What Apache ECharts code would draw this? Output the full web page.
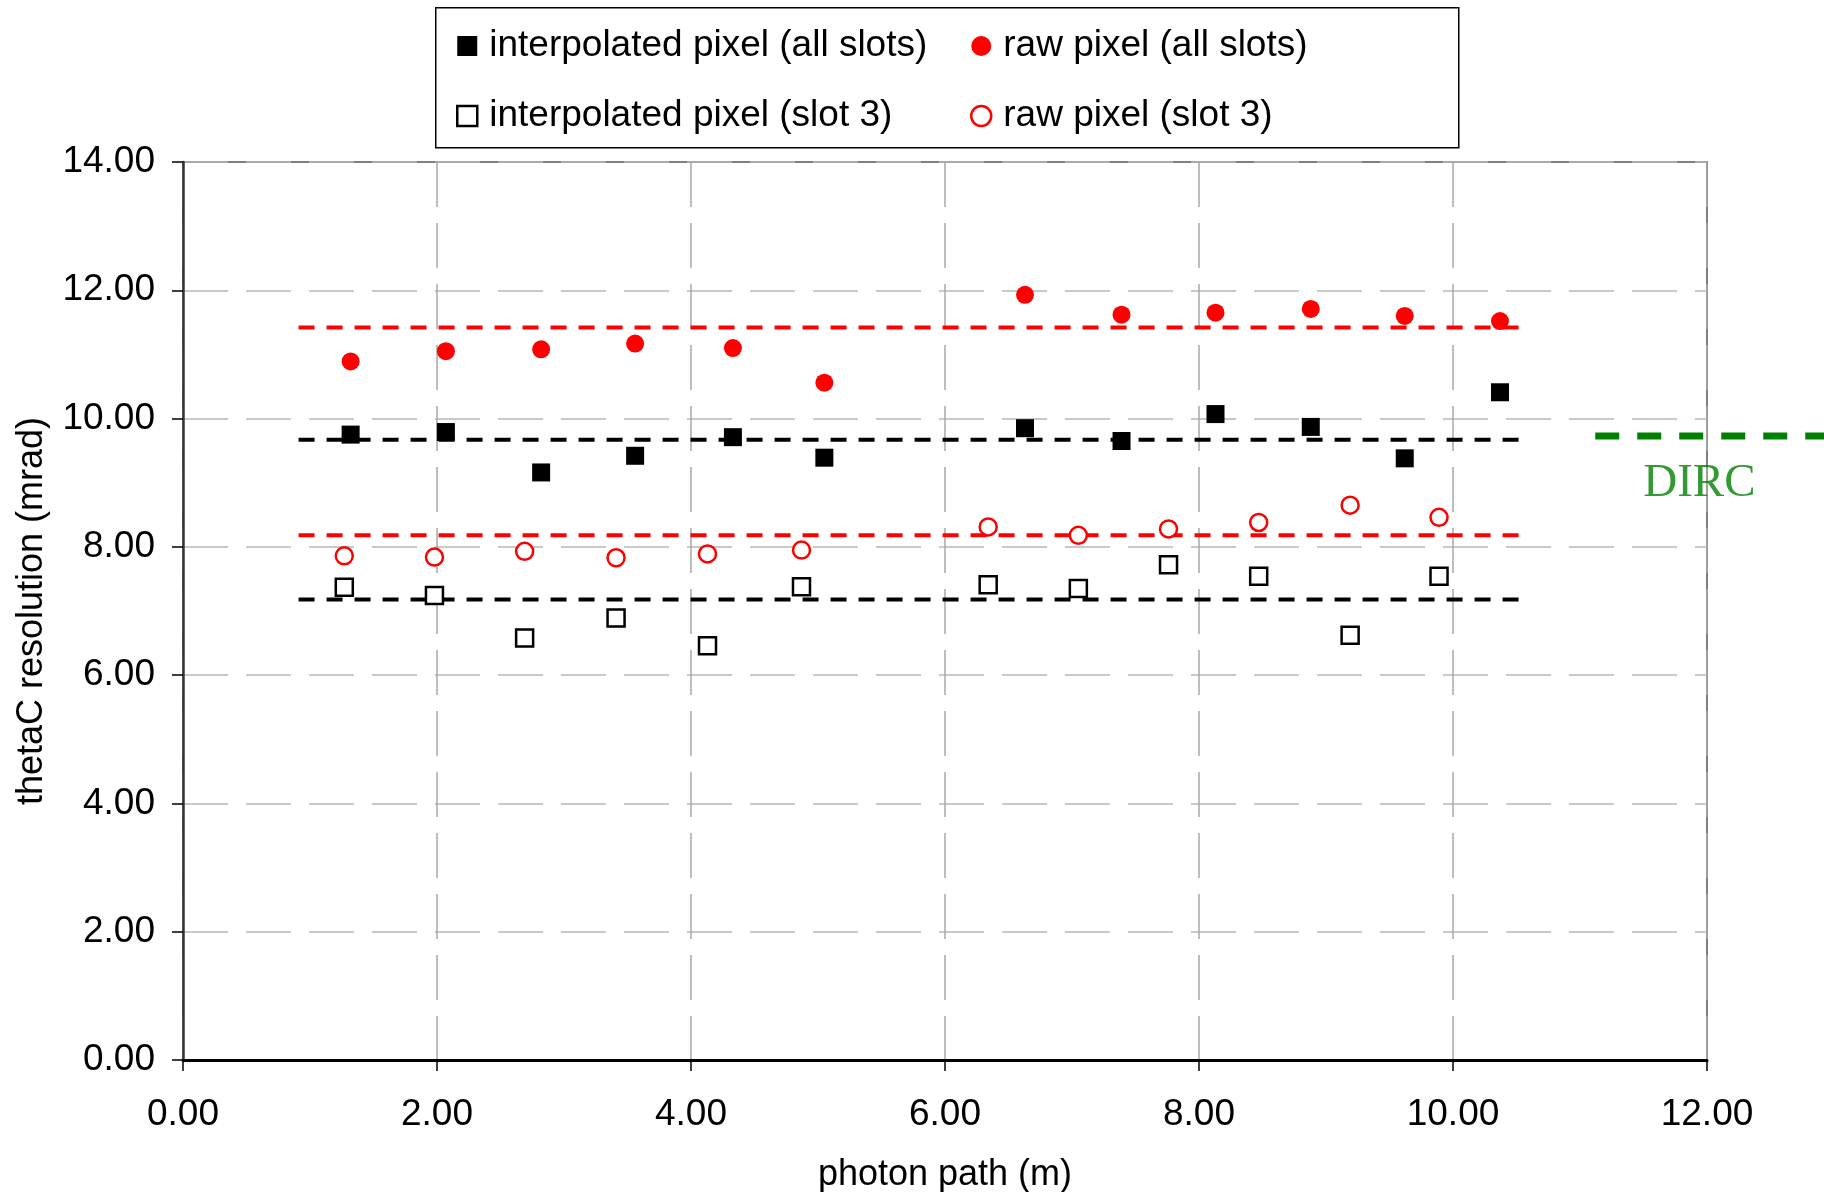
<!DOCTYPE html>
<html>
<head>
<meta charset="utf-8">
<script src="https://cdn.jsdelivr.net/npm/echarts@6/dist/echarts.min.js"></script>
<style>
  html, body { margin: 0; padding: 0; background: #fff; }
  #main { width: 1824px; height: 1192px; }
</style>
</head>
<body>
<div id="main"></div>
<script>
// photon path (m) for each point
var pathAll = [1.32, 2.07, 2.82, 3.56, 4.33, 5.05, 6.63, 7.39, 8.13, 8.88, 9.62, 10.37];
var pathSlot3 = [1.27, 1.98, 2.69, 3.41, 4.13, 4.87, 6.34, 7.05, 7.76, 8.47, 9.19, 9.89];

// thetaC resolution (mrad)
var interpAll = [9.75, 9.79, 9.16, 9.42, 9.71, 9.39, 9.85, 9.65, 10.07, 9.87, 9.38, 10.41];
var rawAll = [10.89, 11.05, 11.08, 11.17, 11.10, 10.56, 11.93, 11.62, 11.65, 11.71, 11.60, 11.52];
var interpSlot3 = [7.37, 7.24, 6.58, 6.89, 6.46, 7.38, 7.41, 7.35, 7.72, 7.54, 6.62, 7.54];
var rawSlot3 = [7.86, 7.84, 7.93, 7.83, 7.89, 7.95, 8.31, 8.18, 8.28, 8.38, 8.65, 8.46];

// mean lines
var meanRange = [0.91, 10.52];
var meanLevels = [11.42, 9.67, 8.18, 7.18];
var meanColors = ['#ff0000', '#000000', '#ff0000', '#000000'];

// DIRC reference (runs past the right edge of the plot)
var dircRange = [11.12, 12.95];
var dircLevel = 9.73;
var dircLabelPos = [11.94, 8.98];

var seriesNames = [
    'interpolated pixel (all slots)',
    'raw pixel (all slots)',
    'interpolated pixel (slot 3)',
    'raw pixel (slot 3)'
];

var font = "'Liberation Sans', Arial, sans-serif";

function pairs(xs, ys) {
    return xs.map(function (x, i) { return [x, ys[i]]; });
}

var chart = echarts.init(document.getElementById('main'));

var series = [];

meanLevels.forEach(function (lvl, i) {
    series.push({
        type: 'line',
        data: meanRange.map(function (x) { return [x, lvl]; }),
        showSymbol: false,
        silent: true,
        z: 2,
        lineStyle: { color: meanColors[i], width: 4, type: [16, 12] }
    });
});

series.push({
    type: 'scatter',
    data: [dircLabelPos],
    symbolSize: 0,
    silent: true,
    clip: false,
    label: {
        show: true,
        position: 'inside',
        formatter: 'DIRC',
        color: '#008000',
        fontFamily: "'Liberation Serif', 'Times New Roman', serif",
        fontSize: 47
    }
});

series.push({
    name: seriesNames[0], type: 'scatter', symbol: 'rect', symbolSize: 18, z: 5,
    data: pairs(pathAll, interpAll),
    itemStyle: { color: '#000', opacity: 1 }
});
series.push({
    name: seriesNames[1], type: 'scatter', symbol: 'circle', symbolSize: 18, z: 5,
    data: pairs(pathAll, rawAll),
    itemStyle: { color: '#ff0000', opacity: 1 }
});
series.push({
    name: seriesNames[2], type: 'scatter', symbol: 'rect', symbolSize: 17, z: 5,
    data: pairs(pathSlot3, interpSlot3),
    itemStyle: { color: '#fff', borderColor: '#000', borderWidth: 2.5, opacity: 1 }
});
series.push({
    name: seriesNames[3], type: 'scatter', symbol: 'circle', symbolSize: 17, z: 5,
    data: pairs(pathSlot3, rawSlot3),
    itemStyle: { color: '#fff', borderColor: '#ff0000', borderWidth: 2.5, opacity: 1 }
});

var legendBase = {
    orient: 'vertical',
    top: 27,
    padding: 0,
    itemGap: 32,
    itemWidth: 20,
    itemHeight: 20,
    z: 10,
    selectedMode: false,
    textStyle: { fontFamily: font, fontSize: 37, color: '#000', lineHeight: 38, padding: [0, 0, 0, 7] }
};

var option = {
    animation: false,
    backgroundColor: '#fff',
    grid: {
        left: 183, right: 117, top: 162, bottom: 132,
        containLabel: false,
        outerBoundsMode: 'none',
        show: true, borderColor: '#808080', borderWidth: 2, backgroundColor: '#fff'
    },
    legend: [
        Object.assign({}, legendBase, {
            left: 456,
            data: [
                { name: seriesNames[0], icon: 'rect', itemStyle: { color: '#000', borderWidth: 0, opacity: 1 } },
                { name: seriesNames[2], icon: 'rect', itemStyle: { color: '#fff', borderColor: '#000', borderWidth: 2.5, opacity: 1 } }
            ]
        }),
        Object.assign({}, legendBase, {
            left: 970,
            data: [
                { name: seriesNames[1], icon: 'circle', itemStyle: { color: '#ff0000', borderWidth: 0, opacity: 1 } },
                { name: seriesNames[3], icon: 'circle', itemStyle: { color: '#fff', borderColor: '#ff0000', borderWidth: 2.5, opacity: 1 } }
            ]
        })
    ],
    xAxis: {
        type: 'value',
        min: 0, max: 12, interval: 2,
        name: 'photon path (m)',
        nameLocation: 'middle',
        nameGap: 97,
        nameTextStyle: { fontFamily: font, fontSize: 36, color: '#000' },
        axisLine: { lineStyle: { color: '#000', width: 3 } },
        axisTick: { show: true, length: 11, lineStyle: { color: '#000', width: 1.5 } },
        axisLabel: {
            fontFamily: font, fontSize: 37, color: '#000', margin: 36,
            formatter: function (v) { return v.toFixed(2); }
        },
        splitLine: { show: true, lineStyle: { color: '#a8a8a8', width: 1.5, type: [45, 16] } }
    },
    yAxis: {
        type: 'value',
        min: 0, max: 14, interval: 2,
        name: 'thetaC resolution (mrad)',
        nameLocation: 'middle',
        nameGap: 133,
        nameTextStyle: { fontFamily: font, fontSize: 36, color: '#000' },
        axisLine: { show: true, lineStyle: { color: '#333', width: 2.5 } },
        axisTick: { show: true, length: 11, lineStyle: { color: '#000', width: 1.5 } },
        axisLabel: {
            fontFamily: font, fontSize: 37, color: '#000', margin: 28,
            formatter: function (v) { return v.toFixed(2); }
        },
        splitLine: { show: true, lineStyle: { color: '#b8b8b8', width: 1.5, type: [45, 18] } }
    },
    series: series
};

chart.setOption(option);

// the DIRC dashes sit outside the plot, so place them through the axes' own scale
var p0 = chart.convertToPixel({ gridIndex: 0 }, [dircRange[0], dircLevel]);
var p1 = chart.convertToPixel({ gridIndex: 0 }, [dircRange[1], dircLevel]);
chart.setOption({
    graphic: [{
        type: 'rect',
        left: 435, top: 7, z: 1,
        shape: { width: 1023, height: 140 },
        style: { fill: '#fff', stroke: '#000', lineWidth: 1.5 }
    }, {
        type: 'line',
        z: 3,
        silent: true,
        shape: { x1: p0[0], y1: p0[1], x2: p1[0], y2: p1[1] },
        style: { stroke: '#008000', lineWidth: 7, lineDash: [24, 18] }
    }]
});
</script>
</body>
</html>
